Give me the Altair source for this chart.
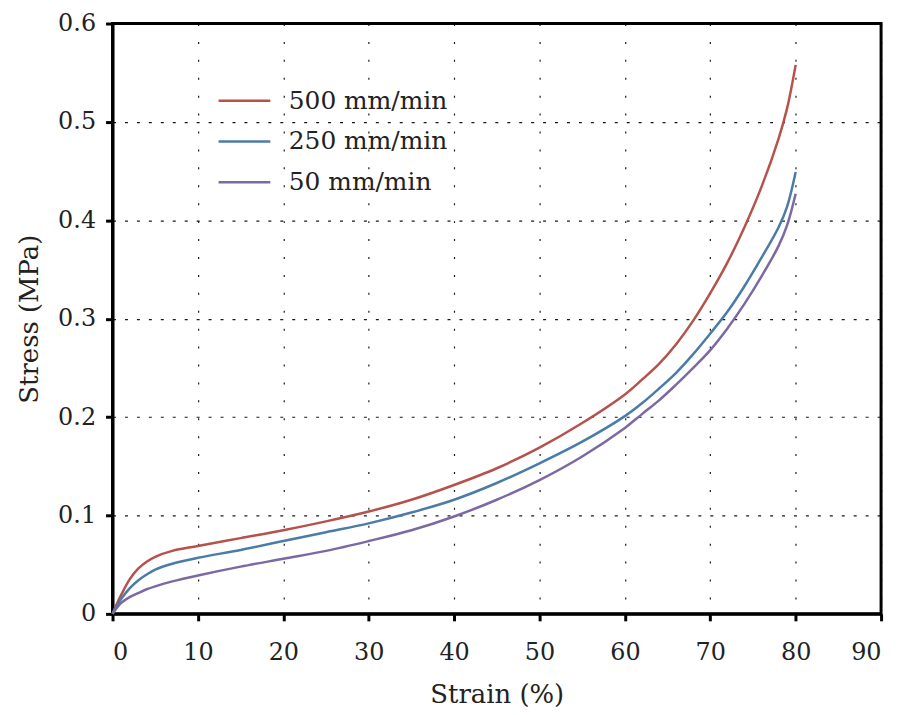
import altair as alt
import pandas as pd

strain = [0, 0.5, 1, 2, 3, 4, 5, 7, 10, 15, 20, 25, 30, 35, 40, 45, 50, 55, 60, 62, 64, 66, 68, 70, 72, 74, 76, 78, 79, 80]
s500 = [0, 0.010, 0.019, 0.035, 0.046, 0.053, 0.058, 0.064, 0.069, 0.077, 0.085, 0.094, 0.104, 0.116, 0.131,
        0.148, 0.169, 0.194, 0.223, 0.238, 0.254, 0.274, 0.298, 0.326, 0.357, 0.393, 0.434, 0.483, 0.514, 0.558]
s250 = [0, 0.008, 0.015, 0.026, 0.034, 0.040, 0.045, 0.051, 0.057, 0.065, 0.074, 0.083, 0.092, 0.103, 0.116,
        0.133, 0.153, 0.175, 0.201, 0.214, 0.229, 0.245, 0.264, 0.285, 0.307, 0.333, 0.362, 0.393, 0.414, 0.449]
s50 = [0, 0.006, 0.011, 0.017, 0.021, 0.025, 0.028, 0.033, 0.039, 0.048, 0.056, 0.064, 0.074, 0.085, 0.099,
       0.116, 0.136, 0.160, 0.189, 0.203, 0.217, 0.233, 0.250, 0.268, 0.290, 0.315, 0.343, 0.374, 0.395, 0.427]
series = ["500 mm/min", "250 mm/min", "50 mm/min"]
colors = ["#B5524C", "#4B7BA7", "#7C68A3"]
x_ticks = [0, 10, 20, 30, 40, 50, 60, 70, 80, 90]
y_ticks = [0, 0.1, 0.2, 0.3, 0.4, 0.5, 0.6]

rows = []
for name, vals in zip(series, [s500, s250, s50]):
    for i, (s, v) in enumerate(zip(strain, vals)):
        rows.append({"series": name, "strain": s, "stress": v, "order": i})
df = pd.DataFrame(rows)

FONT = "DejaVu Serif"

chart = alt.Chart(df).mark_line(strokeWidth=2.5, interpolate="catmull-rom").encode(
    x=alt.X("strain:Q", title="Strain (%)",
            scale=alt.Scale(domain=[0, 90], nice=False),
            axis=alt.Axis(values=x_ticks, gridDash=[2, 16], labelPadding=20,
                          titlePadding=17)),
    y=alt.Y("stress:Q", title="Stress (MPa)",
            scale=alt.Scale(domain=[0, 0.6], nice=False),
            axis=alt.Axis(values=y_ticks, gridDash=[3, 9], labelPadding=10,
                          titlePadding=15,
                          labelExpr="datum.value == 0 ? '0' : format(datum.value, '.1f')")),
    color=alt.Color("series:N",
                    scale=alt.Scale(domain=series, range=colors),
                    sort=series,
                    legend=alt.Legend(title=None, orient="none", legendX=105, legendY=50,
                                      symbolType="stroke", symbolSize=2704,
                                      symbolStrokeWidth=2.5, labelFontSize=25,
                                      labelFont=FONT, labelOffset=17, rowPadding=0,
                                      labelColor="#222")),
    order="order:Q",
).properties(
    width=772, height=593,
    padding={"left": 105, "top": 14, "right": 15, "bottom": 100},
    autosize=alt.AutoSizeParams(type="none"),
).configure_view(
    stroke="black", strokeWidth=3
).configure_axis(
    labelFont=FONT, titleFont=FONT, labelFontSize=24, titleFontSize=26,
    titleFontWeight="normal", labelColor="#222", titleColor="#222",
    domainColor="black", domainWidth=3, tickColor="black", tickWidth=3, tickSize=7,
    gridColor="black", gridWidth=1.2, gridOpacity=0.9,
)

chart.save("out.html", embed_options={"renderer": "svg", "actions": False})
